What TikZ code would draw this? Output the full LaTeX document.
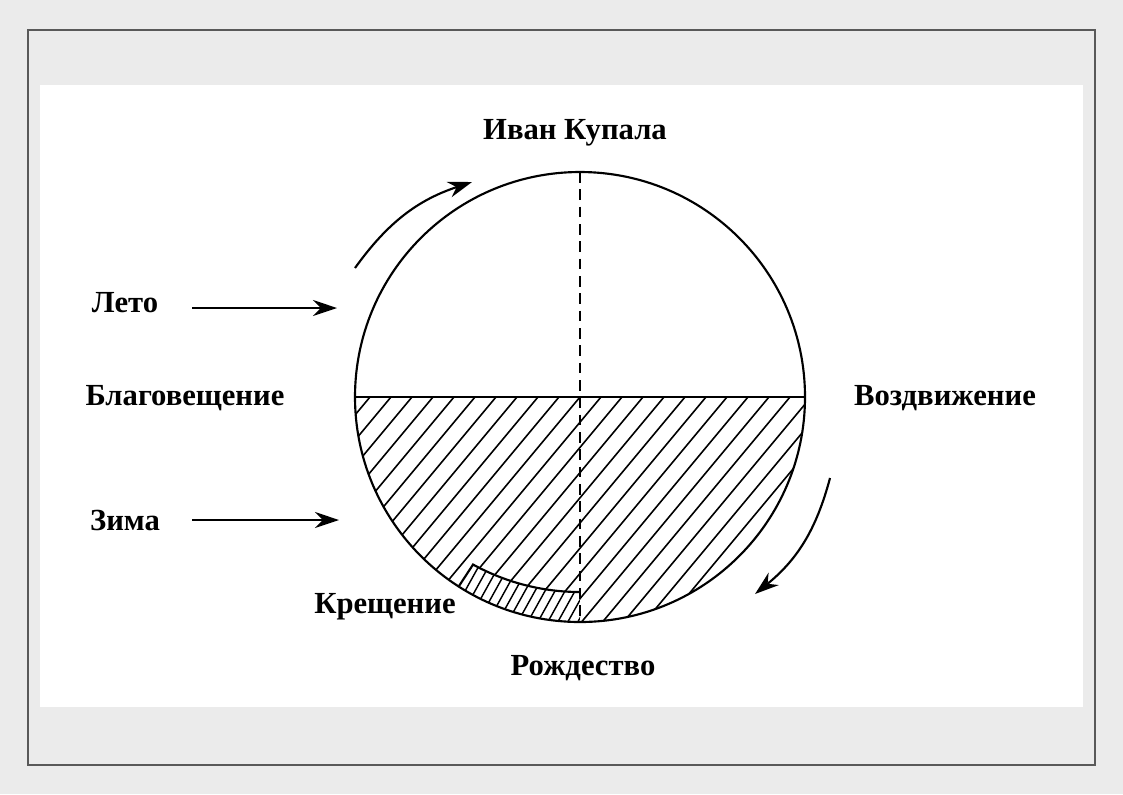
\documentclass[tikz,border=0pt]{standalone}
\usepackage{fontspec}
\setmainfont{Liberation Serif}
\usetikzlibrary{arrows.meta,calc}
\begin{document}
\begin{tikzpicture}[x=0.75pt,y=-0.75pt,
  lbl/.style={font=\fontsize{23}{27}\selectfont\bfseries},
  ln/.style={line width=1.6pt},
  arr/.style={ln,-{Stealth[length=18pt,width=12pt]}}]
\useasboundingbox (0,0) rectangle (1123,794);
\fill[black!8] (0,0) rectangle (1123,794);
\draw[black!65,line width=1pt] (28,30) rectangle (1095,765);
\fill[white] (40,85) rectangle (1083,707);
\coordinate (C) at (580,397);
\coordinate (bl) at ($(580,370)+(118.8:222)$);
\coordinate (bo) at (459,586);
% hatching lower half
\begin{scope}
\clip (355,397) arc[start angle=180,end angle=0,radius=225] -- cycle;
\foreach \k in {-30,...,30} {\draw[line width=1.2pt] ({580+\k*21-250},{397+250*1.2}) -- ({580+\k*21+250},{397-250*1.2});}
\end{scope}
% band (Kreshchenie)
\begin{scope}
\clip (bo) -- (bl) arc[start angle=118.8,end angle=90,radius=222] -- (580,622) -- (580,640) -- (440,640) -- cycle;
\clip (C) circle[radius=225];
\fill[white] (440,550) rectangle (580,640);
\foreach \k in {-20,...,20} {\draw[line width=1.1pt] ({520+\k*10-100},{600+100*1.8}) -- ({520+\k*10+100},{600-100*1.8});}
\end{scope}
\draw[ln] (bo) -- (bl) arc[start angle=118.8,end angle=90,radius=222];
% circle & lines
\draw[ln] (C) circle[radius=225];
\draw[ln] (355,397) -- (805,397);
\draw[ln,dash pattern=on 8pt off 5pt] (580,172) -- (580,622);
% arrows
\draw[arr] (355,268) to[bend left=18] (472,182);
\draw[arr] (830,478) to[bend left=18] (755,594);
\node[lbl] (ivan) at (575,133) {Иван Купала};
\node[lbl] (leto) at (125,303) {Лето};
\node[lbl] (blag) at (185,398) {Благовещение};
\node[lbl] (vozd) at (945,398) {Воздвижение};
\node[lbl] (zima) at (125,520) {Зима};
\node[lbl] (kresh) at (385,607) {Крещение};
\node[lbl] (rozh) at (583,668) {Рождество};
\coordinate (le) at (337,308);
\coordinate (ze) at (339,520);
\draw[arr] (192,308) -- (le);
\draw[arr] (192,520) -- (ze);
\end{tikzpicture}
\end{document}
